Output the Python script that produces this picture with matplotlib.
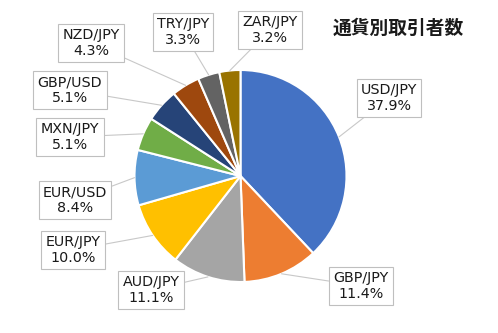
import numpy as np
import matplotlib
matplotlib.use("Agg")
import matplotlib.pyplot as plt

plt.rcParams["font.family"] = ["DejaVu Sans", "Noto Sans CJK JP"]

# share of traders per currency pair (%), clockwise from 12 o'clock
pairs = ["USD/JPY", "GBP/JPY", "AUD/JPY", "EUR/JPY", "EUR/USD",
         "MXN/JPY", "GBP/USD", "NZD/JPY", "TRY/JPY", "ZAR/JPY"]
shares = [37.9, 11.4, 11.1, 10.0, 8.4, 5.1, 5.1, 4.3, 3.3, 3.2]
colors = ["#4472C4", "#ED7D31", "#A5A5A5", "#FFC000", "#5B9BD5",
          "#70AD47", "#264478", "#9E480E", "#636363", "#997300"]
title = "通貨別取引者数"

# label box centres in pixel units (y measured from the top)
label_pos = [(389, 98), (361, 286), (151, 290), (73, 250), (75, 200),
             (70, 137), (70, 90), (91, 43), (183, 32), (270, 30)]

W, H = 498, 333
cx, cy, r = 240.5, 176, 106

fig = plt.figure(figsize=(W / 100, H / 100), dpi=100)
ax = fig.add_axes([0, 0, 1, 1])

wedges, _ = ax.pie(shares, colors=colors, startangle=90, counterclock=False,
                   center=(cx, H - cy), radius=r,
                   wedgeprops=dict(edgecolor="white", linewidth=1.5))
ax.set_xlim(0, W)
ax.set_ylim(0, H)
ax.set_aspect("equal")
ax.axis("off")

for w, name, val, (lx, ly) in zip(wedges, pairs, shares, label_pos):
    mid = np.deg2rad((w.theta1 + w.theta2) / 2)
    px = cx + r * np.cos(mid)
    py = (H - cy) + r * np.sin(mid)
    ax.annotate(f"{name}\n{val:.1f}%", xy=(px, py), xytext=(lx, H - ly),
                ha="center", va="center", fontsize=10.3, color="#1a1a1a",
                linespacing=1.1,
                bbox=dict(boxstyle="square,pad=0.3", fc="white",
                          ec="#BFBFBF", lw=0.8),
                arrowprops=dict(arrowstyle="-", color="#C8C8C8", lw=0.8,
                                shrinkA=0, shrinkB=0))

ax.text(398, H - 28, title, ha="center", va="center", fontsize=13.5,
        fontweight="bold", color="#1a1a1a",
        family=["Noto Sans CJK JP", "DejaVu Sans"])

fig.savefig("out.png", dpi=100)
